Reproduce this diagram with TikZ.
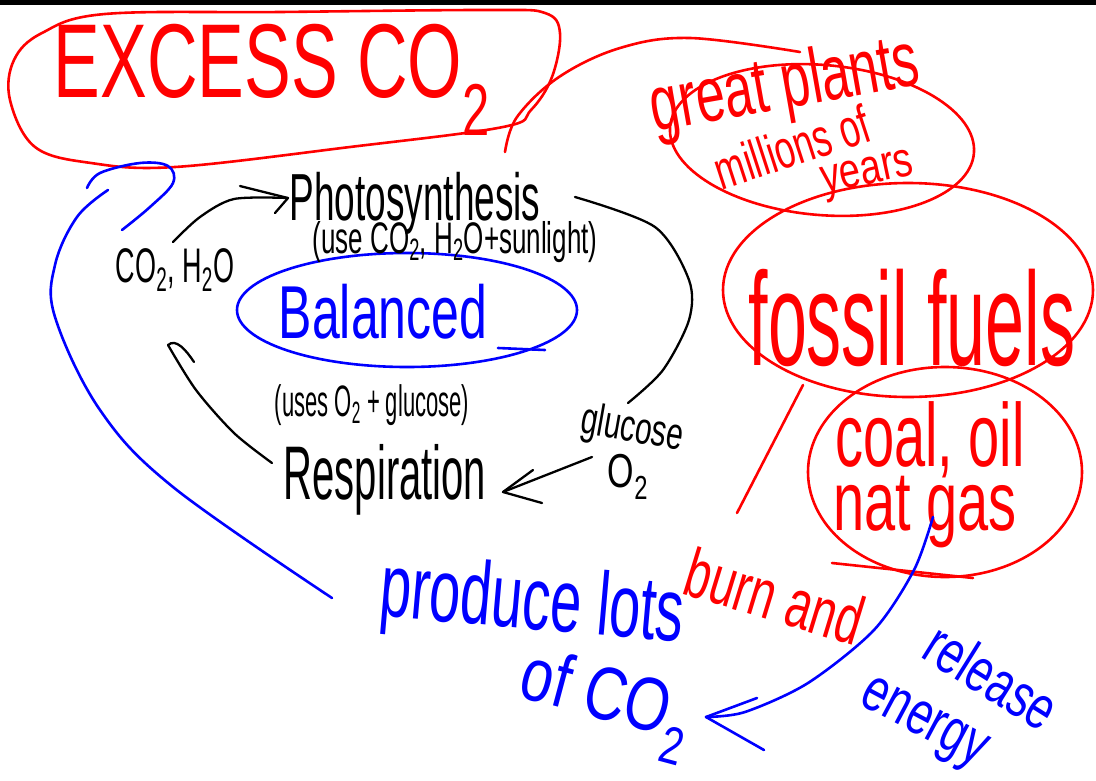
\documentclass[tikz,border=0pt]{standalone}
\usepackage{fontspec}
\setmainfont{Liberation Sans}
\usetikzlibrary{shapes.geometric}
\newcommand{\hwtxt}[3]{\scalebox{#1}[#2]{#3}}
\newcommand{\fsz}[1]{\fontsize{#1}{#1}\selectfont}
\tikzset{
  ink/.style={line width=2.6pt, line cap=round, line join=round},
  rd/.style={ink, draw=red},
  bl/.style={ink, draw=blue},
  bk/.style={line width=2.3pt, line cap=round, line join=round, draw=black},
  lbl/.style={inner sep=0pt, anchor=center},
  oval/.style={ellipse, inner sep=0pt},
}
\begin{document}
\begin{tikzpicture}[x=1pt,y=-1pt]
\useasboundingbox (0,0) rectangle (1096,780);
\fill[black] (0,0) rectangle (1096,5);

% ---------- red: Excess CO2 ----------
\draw[rd] plot[smooth cycle, tension=0.6] coordinates {(42,33) (105,14) (280,12) (490,10) (545,13) (560,33) (552,77) (531,110) (503,127) (350,147) (175,167) (91,163) (35,147) (10,100) (14,60)};
\node[lbl, text=red, font=\fsz{70}] (excess) at (272,80) {\hwtxt{1}{1.5}{EXCESS CO\textsubscript{2}}};

% connector to great plants
\coordinate (c0) at (505,152);
\coordinate (c1) at (800,52);
\draw[rd] plot[smooth, tension=0.6] coordinates {(c0) (517,117) (559,77) (620,48) (690,38) (c1)};
\node[lbl, text=red, font=\fsz{52}] (plants) at (785,88) {\rotatebox{10}{\hwtxt{1}{1.5}{great plants}}};

% millions of years
\node[oval, draw=red, ink, minimum width=305pt, minimum height=150pt, rotate=-5] (millov) at (822,140) {};
\node[lbl, text=red, font=\fsz{36}] (millions) at (792,147) {\rotatebox{18}{\hwtxt{1}{1.5}{millions of}}};
\node[lbl, text=red, font=\fsz{38}] (years) at (868,176) {\rotatebox{12}{\hwtxt{1}{1.3}{years}}};

% fossil fuels
\node[oval, draw=red, ink, minimum width=370pt, minimum height=214pt] (fossilov) at (908,290) {};
\node[lbl, text=red, font=\fsz{70}] (fossil) at (912,318) {\hwtxt{1}{1.9}{fossil fuels}};
\coordinate (s1) at (803,385);
\coordinate (s2) at (737,513);
\draw[rd] (s1) -- (s2);

% coal oil nat gas
\node[oval, draw=red, ink, minimum width=274pt, minimum height=210pt] (coalov) at (945,472) {};
\node[lbl, text=red, font=\fsz{56}] (coal) at (930,440) {\hwtxt{1}{1.6}{coal, oil}};
\node[lbl, text=red, font=\fsz{56}] (gas) at (925,512) {\hwtxt{1}{1.5}{nat gas}};
\coordinate (u1) at (832,563);
\coordinate (u2) at (973,578);
\draw[rd] (u1) -- (u2);

\node[lbl, text=red, font=\fsz{46}] (burn) at (775,596) {\rotatebox{-17}{\hwtxt{1}{1.5}{burn and}}};

% ---------- blue ----------
\node[oval, draw=blue, ink, minimum width=340pt, minimum height=114pt] (balov) at (407,310) {};
\node[lbl, text=blue, font=\fsz{50}] (balanced) at (383,312) {\hwtxt{1}{1.5}{Balanced}};
\coordinate (t1) at (498,348);
\coordinate (t2) at (545,350);
\draw[bl] (t1) -- (t2);

\coordinate (b0) at (332,598);
\coordinate (b1) at (108,190);
\draw[bl] plot[smooth, tension=0.6] coordinates {(b0) (173,487) (100,410) (55,317) (55,265) (77,217) (b1)};
\coordinate (h0) at (87,188);
\coordinate (h1) at (122,230);
\draw[bl] plot[smooth, tension=0.6] coordinates {(h0) (100,173) (140,163) (168,166) (173,183) (150,207) (h1)};

\node[lbl, text=blue, font=\fsz{56}] (produce) at (532,606) {\rotatebox{-5}{\hwtxt{1}{1.6}{produce lots}}};
\node[lbl, text=blue, font=\fsz{58}] (ofco) at (605,705) {\rotatebox{-15}{\hwtxt{1}{1.3}{of CO\textsubscript{2}}}};
\node[lbl, text=blue, font=\fsz{44}] (release) at (992,676) {\rotatebox{-32}{\hwtxt{1}{1.4}{release}}};
\node[lbl, text=blue, font=\fsz{44}] (energy) at (922,726) {\rotatebox{-28}{\hwtxt{1}{1.4}{energy}}};

\coordinate (a0) at (933,517);
\coordinate (atip) at (706,717);
\draw[bl] plot[smooth] coordinates {(a0) (914,570) (874,630) (808,683) (745,712) (atip)};
\draw[bl] (757,698) -- (atip) -- (764,750);

% ---------- black cycle ----------
\node[lbl, font=\fsz{37}] (photo) at (415,203) {\hwtxt{1}{1.8}{Photosynthesis}};
\node[lbl, font=\fsz{26}] (uses1) at (455,242) {\hwtxt{1}{1.7}{(use CO\textsubscript{2}, H\textsubscript{2}O+sunlight)}};
\node[lbl, font=\fsz{27}] (coh) at (175,270) {\hwtxt{1}{1.8}{CO\textsubscript{2}, H\textsubscript{2}O}};
\node[lbl, font=\fsz{22}] (uses2) at (372,405) {\hwtxt{1}{2}{(uses O\textsubscript{2} + glucose)}};
\node[lbl, font=\fsz{40}] (resp) at (385,480) {\hwtxt{1}{1.9}{Respiration}};
\node[lbl, font=\fsz{30}] (gluc) at (632,430) {\rotatebox{-10}{\hwtxt{1}{1.5}{glucose}}};
\node[lbl, font=\fsz{34}] (otwo) at (628,477) {\hwtxt{1}{1.4}{O\textsubscript{2}}};

% arrow CO2,H2O -> Photosynthesis
\coordinate (p0) at (173,242);
\coordinate (ptip) at (288,198);
\draw[bk] plot[smooth] coordinates {(p0) (200,217) (234,199) (ptip)};
\draw[bk] (240,186) -- (ptip) -- (275,213);

% Photosynthesis -> glucose arc
\coordinate (r0) at (575,197);
\coordinate (r1) at (628,403);
\draw[bk] plot[smooth] coordinates {(r0) (655,227) (689,280) (689,320) (663,370) (r1)};

% glucose, O2 -> Respiration
\coordinate (g0) at (592,457);
\coordinate (gtip) at (503,492);
\draw[bk] (g0) -- (gtip);
\draw[bk] (533,470) -- (gtip) -- (542,503);

% Respiration -> CO2, H2O
\coordinate (q0) at (272,463);
\coordinate (qtip) at (168,345);
\draw[bk] plot[smooth] coordinates {(q0) (234,433) (196,390) (qtip)};
\draw[bk] (qtip) .. controls (176,338) and (186,350) .. (194,362);
\end{tikzpicture}
\end{document}
